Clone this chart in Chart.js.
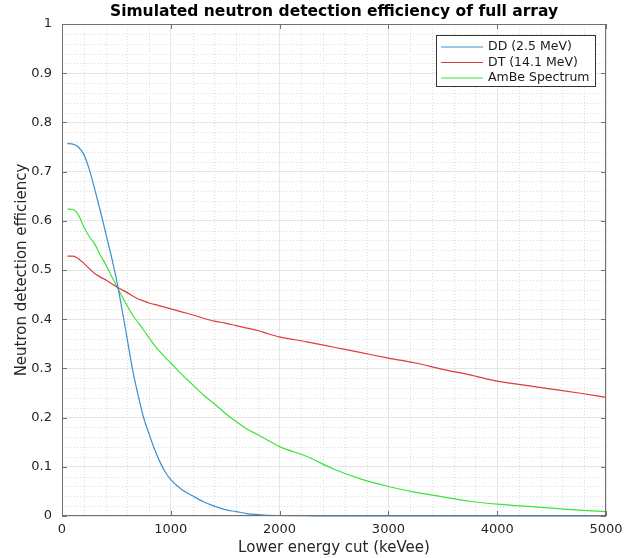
<!DOCTYPE html>
<html>
<head>
<meta charset="utf-8">
<script src="https://cdn.jsdelivr.net/npm/chart.js@4.4.1/dist/chart.umd.min.js"></script>
<style>
  html, body { margin: 0; padding: 0; background: #fff; }
  #wrap { width: 625px; height: 558px; }
</style>
</head>
<body>
<div id="wrap"><canvas id="chart" width="625" height="558"></canvas></div>
<script>
// lower energy cut (keVee)
var energyCut = [50, 100, 150, 200, 250, 300, 350, 400, 450, 500, 550, 600, 650, 700, 750, 800, 850, 900, 950, 1000,
    1100, 1200, 1300, 1400, 1500, 1600, 1700, 1800, 1900, 2000,
    2250, 2500, 2750, 3000, 3250, 3500, 3750, 4000, 4250, 4500, 4750, 5000];

var ddEff = [0.757, 0.756, 0.750, 0.735, 0.705, 0.665, 0.622, 0.577, 0.531, 0.482, 0.422, 0.359, 0.296, 0.245, 0.200, 0.167, 0.136, 0.110, 0.089, 0.074,
    0.054, 0.041, 0.029, 0.020, 0.013, 0.009, 0.005, 0.003, 0.0015, 0.001,
    0.0005, 0, 0, 0, 0, 0, 0, 0, 0, 0, 0, 0];

var dtEff = [0.528, 0.528, 0.523, 0.514, 0.503, 0.493, 0.486, 0.480, 0.473, 0.466, 0.460, 0.454, 0.447, 0.441, 0.437, 0.433, 0.430, 0.427, 0.424, 0.421,
    0.415, 0.409, 0.402, 0.396, 0.392, 0.387, 0.382, 0.377, 0.370, 0.364,
    0.354, 0.343, 0.332, 0.321, 0.311, 0.298, 0.287, 0.274, 0.266, 0.258, 0.250, 0.241];

var ambeEff = [0.624, 0.623, 0.612, 0.588, 0.568, 0.553, 0.531, 0.512, 0.490, 0.468, 0.447, 0.427, 0.408, 0.393, 0.378, 0.362, 0.347, 0.334, 0.322, 0.311,
    0.288, 0.267, 0.246, 0.228, 0.209, 0.192, 0.177, 0.165, 0.153, 0.141,
    0.121, 0.095, 0.075, 0.060, 0.048, 0.039, 0.030, 0.024, 0.020, 0.016, 0.012, 0.009];

var xTicks = [0, 1000, 2000, 3000, 4000, 5000];
var yTicks = [0, 0.1, 0.2, 0.3, 0.4, 0.5, 0.6, 0.7, 0.8, 0.9, 1];
var seriesNames = ['DD (2.5 MeV)', 'DT (14.1 MeV)', 'AmBe Spectrum'];
var seriesColors = ['#3a8fd0', '#e03a3a', '#3de33d'];

function toPoints(ys) {
    return energyCut.map(function (x, i) { return {x: x, y: ys[i]}; });
}

var FONT = 'DejaVu Sans';

// dotted minor grid, box, inward ticks, legend
var matlabAxes = {
    id: 'matlabAxes',
    beforeDatasetsDraw: function (chart) {
        var ctx = chart.ctx, a = chart.chartArea;
        var xs = chart.scales.x, ys = chart.scales.y;
        ctx.save();
        ctx.strokeStyle = '#dcdcdc';
        ctx.lineWidth = 1;
        ctx.setLineDash([1, 2]);
        for (var v = 200; v < 5000; v += 200) {
            if (v % 1000 === 0) continue;
            var px = Math.round(xs.getPixelForValue(v)) + 0.5;
            ctx.beginPath(); ctx.moveTo(px, a.top); ctx.lineTo(px, a.bottom); ctx.stroke();
        }
        for (var k = 1; k < 50; k++) {
            if (k % 5 === 0) continue;
            var py = Math.round(ys.getPixelForValue(k / 50)) + 0.5;
            ctx.beginPath(); ctx.moveTo(a.left, py); ctx.lineTo(a.right, py); ctx.stroke();
        }
        ctx.restore();
    },
    afterDatasetsDraw: function (chart) {
        var ctx = chart.ctx, a = chart.chartArea;
        var xs = chart.scales.x, ys = chart.scales.y;
        ctx.save();
        ctx.strokeStyle = '#707070';
        ctx.lineWidth = 1;
        ctx.strokeRect(Math.round(a.left) + 0.5, Math.round(a.top) + 0.5,
            Math.round(a.right - a.left) - 1, Math.round(a.bottom - a.top) - 1);
        ctx.beginPath();
        xTicks.forEach(function (t) {
            var px = Math.round(xs.getPixelForValue(t)) + 0.5;
            ctx.moveTo(px, a.bottom); ctx.lineTo(px, a.bottom - 5);
            ctx.moveTo(px, a.top); ctx.lineTo(px, a.top + 5);
        });
        yTicks.forEach(function (t) {
            var py = Math.round(ys.getPixelForValue(t)) + 0.5;
            ctx.moveTo(a.left, py); ctx.lineTo(a.left + 5, py);
            ctx.moveTo(a.right, py); ctx.lineTo(a.right - 5, py);
        });
        ctx.stroke();
        ctx.restore();
    },
    afterDraw: function (chart) {
        var ctx = chart.ctx;
        var bx = 436.5, by = 35.5, bw = 159, bh = 51;
        ctx.save();
        ctx.fillStyle = '#fff';
        ctx.fillRect(bx, by, bw, bh);
        ctx.strokeStyle = '#333';
        ctx.lineWidth = 1;
        ctx.strokeRect(bx, by, bw, bh);
        ctx.font = '12.5px "' + FONT + '"';
        ctx.textBaseline = 'middle';
        ctx.fillStyle = '#1a1a1a';
        seriesNames.forEach(function (name, i) {
            var y = 47 + i * 15.5;
            ctx.strokeStyle = seriesColors[i];
            ctx.beginPath(); ctx.moveTo(441, y); ctx.lineTo(483, y); ctx.stroke();
            ctx.fillText(name, 488, y);
        });
        ctx.restore();
    }
};

var ctx = document.getElementById('chart').getContext('2d');
var effChart = new Chart(ctx, {
    type: 'line',
    data: {
        datasets: seriesNames.map(function (name, i) {
            return {
                label: name,
                data: toPoints([ddEff, dtEff, ambeEff][i]),
                borderColor: seriesColors[i],
                borderWidth: 1.2,
                pointRadius: 0,
                fill: false,
                cubicInterpolationMode: 'monotone',
                clip: 3
            };
        })
    },
    options: {
        responsive: false,
        animation: false,
        events: [],
        layout: { padding: { left: 0, right: 19, top: 0, bottom: 0 } },
        plugins: {
            legend: { display: false },
            tooltip: { enabled: false },
            title: {
                display: true,
                fullSize: false,
                text: 'Simulated neutron detection efficiency of full array',
                color: '#000',
                font: { family: FONT, size: 15.5, weight: 'bold' },
                padding: { top: 3, bottom: 2.4 }
            }
        },
        scales: {
            x: {
                type: 'linear',
                min: 0, max: 5000,
                afterFit: function (s) { s.height = 42; s.paddingLeft = 0; s.paddingRight = 0; },
                afterBuildTicks: function (s) { s.ticks = xTicks.map(function (v) { return {value: v}; }); },
                ticks: {
                    font: { family: FONT, size: 13 }, color: '#262626', padding: 6, maxRotation: 0,
                    callback: function (v) { return String(v); }
                },
                grid: { color: '#e6e6e6', drawTicks: false },
                border: { display: false },
                title: {
                    display: true, text: 'Lower energy cut (keVee)', color: '#262626',
                    font: { family: FONT, size: 15 }, padding: { top: 0, bottom: 1 }
                }
            },
            y: {
                min: 0, max: 1,
                afterFit: function (s) { s.width = 62; s.paddingTop = 0; s.paddingBottom = 0; },
                afterBuildTicks: function (s) { s.ticks = yTicks.map(function (v) { return {value: v}; }); },
                ticks: {
                    font: { family: FONT, size: 13 }, color: '#262626', padding: 10,
                    callback: function (v) { return String(Math.round(v * 10) / 10); }
                },
                grid: { color: '#e6e6e6', drawTicks: false },
                border: { display: false },
                title: {
                    display: true, text: 'Neutron detection efficiency', color: '#262626',
                    font: { family: FONT, size: 15 }, padding: { top: 13, bottom: 0 }
                }
            }
        }
    },
    plugins: [matlabAxes]
});
</script>
</body>
</html>
